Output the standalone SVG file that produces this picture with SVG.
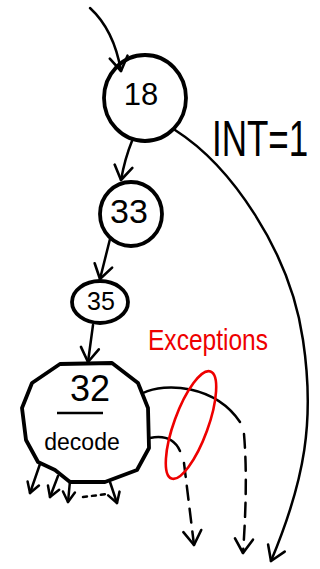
<svg xmlns="http://www.w3.org/2000/svg" width="320" height="569" viewBox="0 0 320 569">
<defs>
<style>
.node{fill:none;stroke:#000;stroke-width:3.8;stroke-linejoin:round}
.edge{fill:none;stroke:#000;stroke-width:2.5;stroke-linecap:round}
.dash{stroke-dasharray:14 9}
.lbl{font-family:"Liberation Sans",Arial,sans-serif;fill:#000;text-anchor:middle}
.red{fill:none;stroke:#e00;stroke-width:2.6}
</style>
<marker id="arr" viewBox="-16 -12 20 24" refX="0" refY="0" markerWidth="20" markerHeight="24" markerUnits="userSpaceOnUse" orient="auto">
<path d="M-14,-9 L0,0 L-14,9" fill="none" stroke="#000" stroke-width="2.6" stroke-linecap="round" stroke-linejoin="round"/>
</marker>
<marker id="sarr" viewBox="-12 -9 14 18" refX="0" refY="0" markerWidth="14" markerHeight="18" markerUnits="userSpaceOnUse" orient="auto">
<path d="M-10,-6 L0,0 L-10,6" fill="none" stroke="#000" stroke-width="2.5" stroke-linecap="round" stroke-linejoin="round"/>
</marker>
</defs>
<rect width="320" height="569" fill="#fff"/>
<g id="connectors">
<path class="edge" d="M90,8 Q114,30 121,71" marker-end="url(#arr)"/>
<path class="edge" d="M132,141 Q125,158 121,180" marker-end="url(#arr)"/>
<path class="edge" d="M110,239 L100,279" marker-end="url(#arr)"/>
<path class="edge" d="M93,325 L88,362" marker-end="url(#arr)"/>
<path class="edge" d="M175,130 C230,165 290,250 303,340 C315,420 305,480 271,561" marker-end="url(#arr)"/>
<path class="edge" d="M143,393 C165,382 215,385 240,422"/>
<path class="edge dash" d="M244,434 C247,470 246,510 243,553" marker-end="url(#arr)"/>
<path class="edge" d="M150,438 C165,435 175,440 180,451"/>
<path class="edge dash" d="M184,463 L194,545" marker-end="url(#arr)"/>
<path class="edge" d="M40,464 L30,493" marker-end="url(#sarr)"/>
<path class="edge" d="M58,476 L50,497" marker-end="url(#sarr)"/>
<path class="edge" d="M70,481 L68,502" marker-end="url(#sarr)"/>
<path class="edge" d="M83,497 L107,494" stroke-dasharray="4 5"/>
<path class="edge" d="M110,482 L117,503" marker-end="url(#sarr)"/>
</g>
<g id="n18">
<ellipse class="node" cx="145" cy="98" rx="41" ry="43"/>
<text class="lbl" x="141" y="105" font-size="31">18</text>
</g>
<g id="n33">
<ellipse class="node" cx="131" cy="214" rx="31" ry="32"/>
<text class="lbl" x="129" y="223" font-size="34">33</text>
</g>
<g id="n35">
<ellipse class="node" cx="100" cy="302" rx="28" ry="21"/>
<text class="lbl" x="101" y="310" font-size="25">35</text>
</g>
<g id="n32">
<polygon class="node" points="60,364 112,363 138,383 148,408 149,448 137,470 105,482 70,482 55,470 38,462 26,440 22,408 32,383"/>
<text class="lbl" x="90" y="401" font-size="36">32</text>
<line x1="57" y1="413" x2="103" y2="413" stroke="#000" stroke-width="2.5"/>
<text class="lbl" x="82" y="450" font-size="23">decode</text>
</g>
<g id="labels">
<text transform="translate(212,156) scale(1,1.45)" x="0" y="0" font-family="Liberation Sans,Arial,sans-serif" font-size="35">INT=1</text>
<text x="148" y="350" font-family="Liberation Sans,Arial,sans-serif" font-size="30" fill="#e00" textLength="120" lengthAdjust="spacingAndGlyphs">Exceptions</text>
<ellipse class="red" cx="191" cy="425" rx="17" ry="57" transform="rotate(20 191 425)"/>
</g>
</svg>
